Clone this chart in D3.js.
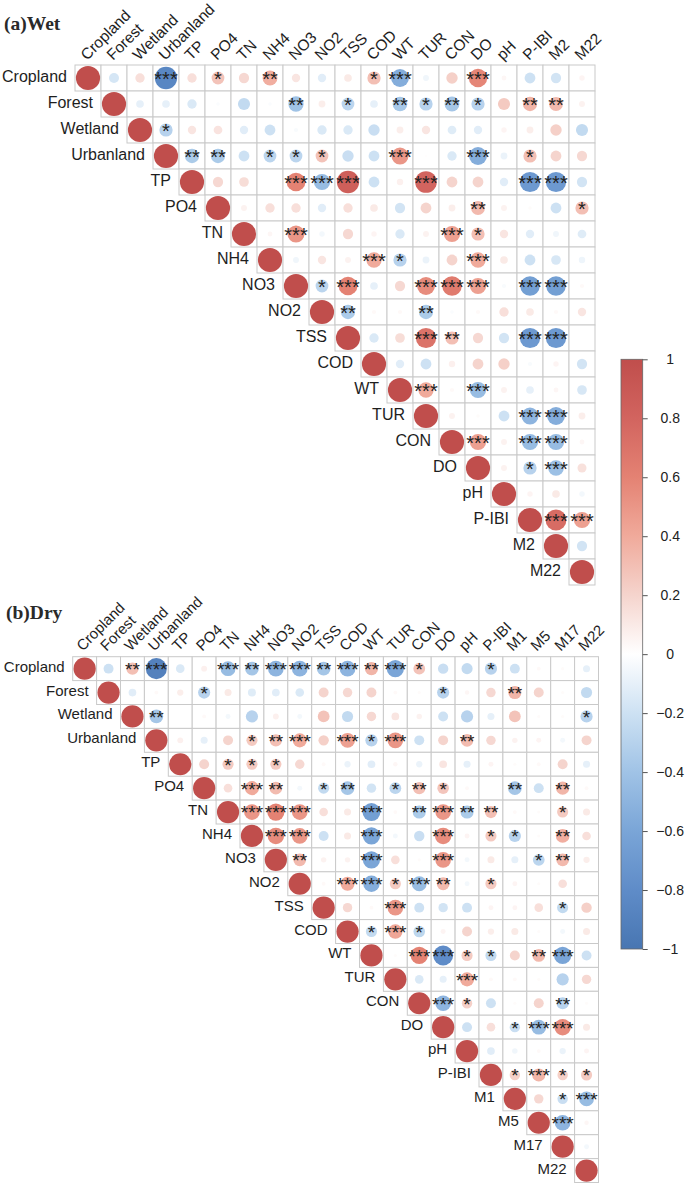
<!DOCTYPE html>
<html><head><meta charset="utf-8">
<script src="https://cdn.jsdelivr.net/npm/d3@7"></script>
<style>body{margin:0;background:#fff}svg{display:block}</style>
</head><body>
<script>
// ---------------- DATA ----------------
const wetVars = ["Cropland","Forest","Wetland","Urbanland","TP","PO4","TN","NH4","NO3","NO2","TSS","COD","WT","TUR","CON","DO","pH","P-IBI","M2","M22"];
// upper triangle rows (values to the right of the diagonal)
const wetCorr = [
 [-0.17,0.15,-0.85,0.15,0.28,0.18,0.38,0.12,-0.12,0.1,0.3,-0.55,-0.06,0.22,0.58,0.04,-0.2,-0.18,0.05],
 [-0.1,-0.1,-0.15,-0.02,-0.25,-0.02,-0.4,0.08,-0.28,-0.1,-0.37,-0.3,-0.38,-0.3,0.25,0.35,0.33,0.06],
 [-0.3,0.12,0.13,-0.12,-0.2,-0.03,-0.15,-0.15,-0.22,0.08,0.12,-0.13,-0.12,0.05,0.08,0.22,-0.25],
 [-0.35,-0.35,-0.2,-0.28,-0.28,0.28,-0.22,-0.2,0.5,0.01,-0.15,-0.55,-0.08,0.3,0.2,0.18],
 [0.18,0.16,0.0,0.6,-0.45,0.85,-0.2,0.07,0.8,0.2,0.2,-0.12,-0.7,-0.7,-0.18],
 [0.06,0.15,0.15,-0.12,0.15,0.1,-0.18,0.2,0.08,0.33,0.06,0.02,-0.2,0.3],
 [0.04,0.5,-0.05,0.18,0.05,-0.15,0.06,0.45,0.3,0.12,-0.12,-0.06,-0.13],
 [-0.06,0.12,0.06,0.4,-0.3,-0.08,0.2,0.4,0.1,-0.2,-0.16,-0.07],
 [-0.28,0.6,-0.1,0.18,0.55,0.65,0.45,-0.03,-0.65,-0.65,0.03],
 [-0.35,0.03,0.03,-0.35,-0.02,0.03,0.15,0.1,0.03,0.12],
 [-0.15,0.16,0.7,0.3,0.18,-0.18,-0.7,-0.7,0.0],
 [-0.12,-0.2,0.07,0.2,0.22,-0.03,0.05,-0.18],
 [0.4,0.03,-0.45,0.06,-0.1,0.04,-0.16],
 [0.06,0.02,-0.2,-0.5,-0.55,0.08],
 [0.45,0.06,-0.45,-0.45,0.04],
 [0.06,-0.3,-0.42,0.14],
 [0.05,0.1,-0.05],
 [0.75,0.45],
 [-0.18]
];
// number of significance stars
const wetSig = [
 [0,0,3,0,1,0,2,0,0,0,1,3,0,0,3,0,0,0,0],
 [0,0,0,0,0,0,2,0,1,0,2,1,2,1,0,2,2,0],
 [1,0,0,0,0,0,0,0,0,0,0,0,0,0,0,0,0],
 [2,2,0,1,1,1,0,0,3,0,0,3,0,1,0,0],
 [0,0,0,3,3,3,0,0,3,0,0,0,3,3,0],
 [0,0,0,0,0,0,0,0,0,2,0,0,0,1],
 [0,3,0,0,0,0,0,3,1,0,0,0,0],
 [0,0,0,3,1,0,0,3,0,0,0,0],
 [1,3,0,0,3,3,3,0,3,3,0],
 [2,0,0,2,0,0,0,0,0,0],
 [0,0,3,2,0,0,3,3,0],
 [0,0,0,0,0,0,0,0],
 [3,0,3,0,0,0,0],
 [0,0,0,3,3,0],
 [3,0,3,3,0],
 [0,1,3,0],
 [0,0,0],
 [3,3],
 [0]
];

const dryVars = ["Cropland","Forest","Wetland","Urbanland","TP","PO4","TN","NH4","NO3","NO2","TSS","COD","WT","TUR","CON","DO","pH","P-IBI","M1","M5","M17","M22"];
const dryCorr = [
 [-0.2,0.3,-0.9,-0.15,0.07,-0.45,-0.38,-0.5,-0.5,-0.38,-0.5,0.35,-0.6,0.28,-0.22,-0.25,-0.3,-0.2,0.03,0.02,-0.1],
 [-0.12,0.03,0.08,-0.3,0.1,-0.13,-0.12,-0.15,0.2,0.18,0.2,0.03,0.02,-0.3,0.04,0.18,0.35,0.2,0.02,-0.25],
 [-0.38,0.0,0.03,-0.05,-0.3,0.07,-0.05,0.28,-0.25,0.18,0.12,0.06,-0.2,-0.3,-0.1,0.28,0.02,0.02,-0.3],
 [0.07,-0.1,0.2,0.25,0.3,0.4,0.22,0.45,-0.3,0.5,-0.2,0.2,0.32,0.18,0.06,0.05,-0.05,0.2],
 [0.2,0.25,0.25,0.25,0.18,0.03,-0.08,-0.12,0.04,-0.08,0.12,-0.1,0.05,0.02,0.03,0.2,-0.1],
 [0.15,0.4,0.32,-0.05,-0.25,-0.38,-0.18,-0.28,0.3,0.27,0.03,0.0,-0.38,-0.2,0.35,0.03],
 [0.5,0.6,0.5,0.15,0.1,-0.65,0.03,-0.35,0.5,-0.35,0.3,0.03,0.02,0.25,0.1],
 [0.55,0.5,-0.2,0.1,-0.6,-0.05,-0.22,0.55,0.05,0.25,-0.3,0.02,0.38,0.15],
 [0.33,0.06,0.06,-0.6,0.15,0.02,0.5,-0.05,0.1,-0.1,-0.28,0.33,0.08],
 [0.03,0.4,-0.55,0.25,-0.45,0.33,-0.05,0.25,0.05,0.02,0.15,0.0],
 [0.18,0.03,0.5,-0.2,-0.18,-0.2,0.05,0.05,0.15,-0.25,0.22],
 [-0.25,0.42,-0.27,0.05,0.2,0.08,0.1,0.02,-0.05,0.1],
 [0.02,0.6,-0.8,0.25,-0.25,0.2,0.33,-0.6,-0.2],
 [-0.15,-0.1,0.4,0.03,0.03,0.02,-0.3,0.18],
 [-0.5,0.22,-0.2,0.02,0.2,-0.3,0.02],
 [-0.2,0.15,-0.22,-0.45,0.55,0.1],
 [-0.12,-0.06,0.03,-0.08,0.05],
 [0.22,0.35,0.22,0.25],
 [0.18,-0.22,-0.45],
 [-0.5,0.04],
 [-0.05]
];
const drySig = [
 [0,2,3,0,0,3,2,3,3,2,3,2,3,1,0,0,1,0,0,0,0],
 [0,0,0,1,0,0,0,0,0,0,0,0,0,1,0,0,2,0,0,0],
 [2,0,0,0,0,0,0,0,0,0,0,0,0,0,0,0,0,0,1],
 [0,0,0,1,2,3,0,3,1,3,0,0,2,0,0,0,0,0],
 [0,1,1,1,0,0,0,0,0,0,0,0,0,0,0,0,0],
 [0,3,2,0,1,2,0,1,2,1,0,0,2,0,2,0],
 [3,3,3,0,0,3,0,2,3,2,2,0,0,1,0],
 [3,3,0,0,3,0,0,3,0,1,1,0,2,0],
 [2,0,0,3,0,0,3,0,0,0,1,2,0],
 [0,3,3,1,3,2,0,1,0,0,0,0],
 [0,0,3,0,0,0,0,0,0,1,0],
 [1,3,1,0,0,0,0,0,0,0],
 [0,3,3,1,1,0,2,3,0],
 [0,0,3,0,0,0,0,0],
 [3,1,0,0,0,2,0],
 [0,0,1,3,3,0],
 [0,0,0,0,0],
 [1,3,1,1],
 [0,1,3],
 [3,0],
 [0]
];

const legendTicks = [-1,-0.8,-0.6,-0.4,-0.2,0,0.2,0.4,0.6,0.8,1];
const paletteStops = ["#4876b2","#5f8cc8","#7aa5d7","#a0c3e6","#cde1f3","#ffffff","#f5d4cd","#f0aa9b","#e48273","#d2645f","#c04e4c"];

// ---------------- DRAW ----------------
const W = 685, H = 1183;
const svg = d3.select("body").append("svg").attr("width", W).attr("height", H);
const color = d3.scaleLinear().domain(legendTicks).range(paletteStops).interpolate(d3.interpolateRgb);
const SANS = "Liberation Sans, Arial, Helvetica, sans-serif";

function drawMatrix(vars, corr, sig, o) {
  const n = vars.length;
  const g = svg.append("g");
  const x = d3.scaleBand().domain(vars).range([o.x0, o.x0 + n * o.cell]);
  const y = d3.scaleBand().domain(vars).range([o.y0, o.y0 + n * o.cell]);
  const r = d3.scaleSqrt().domain([0, 1]).range([0, 0.465 * o.cell]);
  const cells = [];
  vars.forEach((a, i) => vars.forEach((b, j) => {
    if (j < i) return;
    const v = i === j ? 1 : corr[i][j - i - 1];
    const s = i === j ? 0 : sig[i][j - i - 1];
    cells.push({row: a, col: b, v, s});
  }));
  g.selectAll("rect.cell").data(cells).join("rect").attr("class", "cell")
    .attr("x", d => x(d.col)).attr("y", d => y(d.row))
    .attr("width", x.bandwidth()).attr("height", y.bandwidth())
    .attr("fill", "#fff").attr("stroke", "#c9c9c9").attr("stroke-width", 1);
  g.selectAll("circle.mark").data(cells).join("circle").attr("class", "mark")
    .attr("cx", d => x(d.col) + x.bandwidth() / 2)
    .attr("cy", d => y(d.row) + y.bandwidth() / 2)
    .attr("r", d => r(Math.abs(d.v)))
    .attr("fill", d => color(d.v));
  g.selectAll("text.star").data(cells.filter(d => d.s > 0)).join("text")
    .attr("class", "star")
    .attr("x", d => x(d.col) + x.bandwidth() / 2)
    .attr("y", d => y(d.row) + y.bandwidth() / 2 + o.starFs * o.starDy)
    .attr("text-anchor", "middle")
    .attr("font-family", SANS)
    .attr("font-size", o.starFs).attr("fill", "#222")
    .text(d => "*".repeat(d.s));
  // row labels
  g.selectAll("text.rl").data(vars).join("text").attr("class", "rl")
    .attr("x", d => x(d) - 8)
    .attr("y", d => y(d) + y.bandwidth() / 2 + o.fs * o.rowDy)
    .attr("text-anchor", "end")
    .attr("font-family", SANS)
    .attr("font-size", o.fs).attr("fill", "#1e1e1e")
    .text(d => d);
  // column labels, rotated 45 degrees
  g.selectAll("text.cl").data(vars).join("text").attr("class", "cl")
    .attr("transform", d => `translate(${x(d) + x.bandwidth() / 2 + o.colDx},${o.y0 - o.colDy}) rotate(-45)`)
    .attr("font-family", SANS)
    .attr("font-size", o.colFs).attr("fill", "#1e1e1e")
    .text(d => d);
  svg.append("text").attr("x", o.tx).attr("y", o.ty)
    .attr("font-family", "Liberation Serif, Times New Roman, serif")
    .attr("font-weight", "bold").attr("font-size", 19.5).attr("fill", "#2a2a2a")
    .text(o.title);
}

drawMatrix(wetVars, wetCorr, wetSig, {x0: 75, y0: 65, cell: 26, fs: 16, colFs: 15.5, starFs: 20, starDy: 0.42, rowDy: 0.22, colDx: -1, colDy: 4, tx: 4, ty: 30, title: "(a)Wet"});
drawMatrix(dryVars, dryCorr, drySig, {x0: 72.7, y0: 656.7, cell: 23.9, fs: 15, colFs: 15, starFs: 19, starDy: 0.39, rowDy: 0.2, colDx: -2, colDy: 5, tx: 6, ty: 619, title: "(b)Dry"});

// ---------------- COLOR BAR ----------------
const cb = {x: 621, w: 21.7, top: 359.3, bottom: 949};
const defs = svg.append("defs");
const grad = defs.append("linearGradient").attr("id", "cbar").attr("x1", 0).attr("x2", 0).attr("y1", 1).attr("y2", 0);
grad.selectAll("stop").data(legendTicks).join("stop")
  .attr("offset", (d, i) => i / (legendTicks.length - 1))
  .attr("stop-color", d => color(d));
svg.append("rect").attr("x", cb.x).attr("y", cb.top).attr("width", cb.w).attr("height", cb.bottom - cb.top)
  .attr("fill", "url(#cbar)").attr("stroke", "#666").attr("stroke-width", 0.8);
const cy = d3.scaleLinear().domain([-1, 1]).range([cb.bottom, cb.top]);
const axis = svg.append("g").attr("transform", `translate(${cb.x + cb.w},0)`)
  .call(d3.axisRight(cy).tickValues(legendTicks).tickSize(5).tickFormat(d3.format("")));
axis.select(".domain").remove();
axis.selectAll(".tick line").attr("stroke", "#555");
axis.selectAll(".tick text").attr("x", 27.5).attr("text-anchor", "middle")
  .attr("font-family", SANS).attr("font-size", 14).attr("fill", "#222");
</script>
</body></html>
